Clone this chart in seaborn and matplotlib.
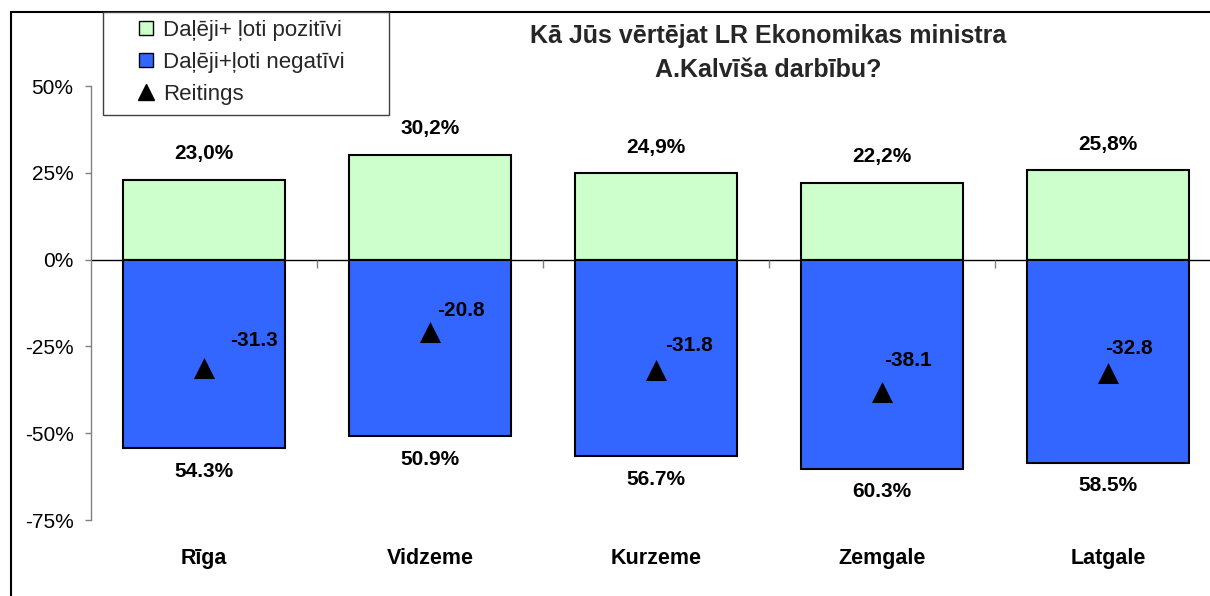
import numpy as np
import pandas as pd
import matplotlib
matplotlib.use("Agg")
import matplotlib.pyplot as plt
from matplotlib.lines import Line2D
from matplotlib.patches import Rectangle
import seaborn as sns

# Survey results by region
regions = ["Rīga", "Vidzeme", "Kurzeme", "Zemgale", "Latgale"]
positive = [23.0, 30.2, 24.9, 22.2, 25.8]
negative = [54.3, 50.9, 56.7, 60.3, 58.5]
rating = [-31.3, -20.8, -31.8, -38.1, -32.8]
y_ticks = [-75, -50, -25, 0, 25, 50]

title = "Kā Jūs vērtējat LR Ekonomikas ministra\nA.Kalvīša darbību?"
legend_labels = ["Daļēji+ ļoti pozitīvi", "Daļēji+ļoti negatīvi", "Reitings"]

GREEN = "#CCFFCC"
BLUE = "#3366FF"

# pixel offsets of the rating labels relative to their markers
rating_label_offsets = [(50, 28), (31, 21), (33, 25), (26, 31), (21, 25)]

sns.set_theme(style="white")
plt.rcParams["font.family"] = ["Liberation Sans", "DejaVu Sans"]

df = pd.DataFrame({
    "region": regions,
    "pos": positive,
    "neg": [-v for v in negative],
    "rating": rating,
})

W, H, DPI = 1210, 596, 100
fig = plt.figure(figsize=(W / DPI, H / DPI), dpi=DPI)
fig.patch.set_facecolor("white")

ax_left, ax_right = 91, 1221
ax_top, ax_bottom = 86, 520
ax = fig.add_axes([ax_left / W, 1 - ax_bottom / H,
                   (ax_right - ax_left) / W, (ax_bottom - ax_top) / H])
ax.set_facecolor("none")

bar_kw = dict(width=0.72, edgecolor="black", linewidth=1.5,
              saturation=1, errorbar=None, ax=ax, zorder=2)
sns.barplot(data=df, x="region", y="pos", color=GREEN, **bar_kw)
sns.barplot(data=df, x="region", y="neg", color=BLUE, **bar_kw)
sns.scatterplot(data=df, x="region", y="rating", marker="^", s=230,
                color="black", linewidth=0, ax=ax, zorder=4, legend=False)

ax.set_xlim(-0.5, len(regions) - 0.5)
ax.set_ylim(-75, 50)
ax.set_xlabel("")
ax.set_ylabel("")

# zero line and category separators
ax.axhline(0, color="black", lw=1.0, zorder=1)
sep_x = np.arange(len(regions) - 1) + 0.5
ax.vlines(sep_x, -2.4, 0, color="#808080", lw=1.0, zorder=1)

for side in ["top", "right", "bottom"]:
    ax.spines[side].set_visible(False)
ax.spines["left"].set_color("#808080")
ax.spines["left"].set_linewidth(1.0)

ax.set_yticks(y_ticks)
ax.set_yticklabels([f"{t}%" for t in y_ticks])
ax.tick_params(axis="y", which="major", left=True, length=4.5, width=1,
               color="#808080", pad=8, labelsize=15, labelcolor="black")
ax.tick_params(axis="x", bottom=False, length=0, pad=20, labelsize=15.5)
for lbl in ax.get_xticklabels():
    lbl.set_fontweight("bold")
    lbl.set_color("black")

# value labels
for i, (p, n, r) in enumerate(zip(positive, negative, rating)):
    ax.annotate(f"{p:.1f}%".replace(".", ","), (i, p), xytext=(0, 26),
                textcoords="offset pixels", ha="center", va="center",
                fontsize=15, fontweight="bold", color="black")
    ax.annotate(f"{n:.1f}%", (i, -n), xytext=(0, -23),
                textcoords="offset pixels", ha="center", va="center",
                fontsize=15, fontweight="bold", color="black")
    dx, dy = rating_label_offsets[i]
    ax.annotate(f"{r:.1f}", (i, r), xytext=(dx, dy),
                textcoords="offset pixels", ha="center", va="center",
                fontsize=15, fontweight="bold", color="black", zorder=5)

# title
fig.text(768 / W, 1 - 53 / H, title, ha="center", va="center",
         fontsize=18, fontweight="bold", linespacing=1.5)

# outer chart frame (left and top edges)
fig.add_artist(Line2D([11 / W, 11 / W], [0, 1 - 12 / H],
                      transform=fig.transFigure, color="black", lw=1.5))
fig.add_artist(Line2D([11 / W, 1], [1 - 12 / H, 1 - 12 / H],
                      transform=fig.transFigure, color="black", lw=1.5))

# legend box
fig.add_artist(Rectangle((103 / W, 1 - 115 / H), 286 / W, 103 / H,
                         transform=fig.transFigure, facecolor="white",
                         edgecolor="#404040", lw=1.0, zorder=5))
handles = [
    Line2D([], [], marker="s", ls="none", markersize=9.5,
           markerfacecolor=GREEN, markeredgecolor="black", markeredgewidth=1),
    Line2D([], [], marker="s", ls="none", markersize=9.5,
           markerfacecolor=BLUE, markeredgecolor="black", markeredgewidth=1),
    Line2D([], [], marker="^", ls="none", markersize=11,
           markerfacecolor="black", markeredgecolor="black"),
]
leg = fig.legend(handles, legend_labels, loc="upper left",
                 bbox_to_anchor=(128 / W, 1 - 13 / H), frameon=False,
                 fontsize=16, handlelength=1.0, handletextpad=0.28,
                 labelspacing=0.5, borderpad=0.3, borderaxespad=0)
leg.set_zorder(6)

fig.savefig("out.png", dpi=DPI, facecolor="white")
